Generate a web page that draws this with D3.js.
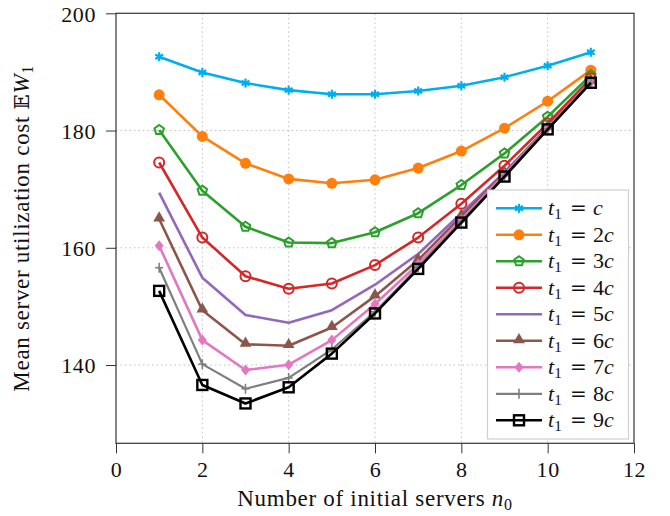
<!DOCTYPE html>
<html><head><meta charset="utf-8">
<script src="https://cdn.jsdelivr.net/npm/d3@7"></script>
<style>body{margin:0;background:#fff}svg{display:block}</style>
</head><body>
<svg id="c" width="670" height="516"></svg>
<script>
const xs = [1,2,3,4,5,6,7,8,9,10,11];
const seriesNames = ["c","2c","3c","4c","5c","6c","7c","8c","9c"];
const s1 = [192.6, 189.9, 188.1, 186.9, 186.2, 186.2, 186.75, 187.65, 189.1, 191.05, 193.35];
const s2 = [186.1, 179.0, 174.4, 171.75, 171.0, 171.6, 173.6, 176.5, 180.4, 185.0, 190.3];
const s3 = [180.1, 169.75, 163.6, 160.9, 160.8, 162.65, 165.9, 170.7, 176.1, 182.35, 189.45];
const s4 = [174.55, 161.75, 155.15, 153.0, 153.9, 157.05, 161.75, 167.5, 174.0, 181.2, 188.9];
const s5 = [169.4, 154.9, 148.55, 147.2, 149.35, 153.7, 158.95, 165.9, 172.9, 180.6, 188.4];
const s6 = [164.9, 149.35, 143.55, 143.3, 146.4, 151.75, 157.9, 165.4, 172.7, 180.5, 188.3];
const s7 = [160.35, 144.25, 139.15, 140.05, 144.25, 150.4, 157.2, 164.8, 172.5, 180.4, 188.25];
const s8 = [156.6, 140.15, 135.95, 137.8, 142.65, 149.1, 156.7, 164.5, 172.3, 180.3, 188.2];
const s9 = [152.65, 136.6, 133.45, 136.2, 141.95, 148.8, 156.4, 164.3, 172.15, 180.2, 188.15];
const xTicks = [0,2,4,6,8,10,12];
const yTicks = [140,160,180,200];

const allSeries = [s1,s2,s3,s4,s5,s6,s7,s8,s9];
const colors = ["#00AEEF","#FF7F0E","#2CA02C","#D62728","#9467BD","#8C564B","#E377C2","#7F7F7F","#000000"];
const markers = ["star","circleFill","pentagon","circleOpen","none","triangle","diamond","plus","square"];

const svg = d3.select("#c");
const L=116, R=634, T=13.3, B=443.3;
const x = d3.scaleLinear().domain([0,12]).range([L,R]);
const y = d3.scaleLinear().domain([126.65,200]).range([B,T]);
const FONT = "'Liberation Serif','Times New Roman',serif";

// grid
const grid = svg.append("g").attr("stroke","#b0b0b0").attr("stroke-width",0.8).attr("stroke-dasharray","1.5,3");
xTicks.filter(t=>t>0&&t<12).forEach(t=>grid.append("line").attr("x1",x(t)).attr("x2",x(t)).attr("y1",T).attr("y2",B));
yTicks.filter(t=>t<200).forEach(t=>grid.append("line").attr("x1",L).attr("x2",R).attr("y1",y(t)).attr("y2",y(t)));

// axes
const xAxis = d3.axisBottom(x).tickValues(xTicks).tickSize(10).tickFormat(d3.format("d"));
const yAxis = d3.axisLeft(y).tickValues(yTicks).tickSize(10).tickFormat(d3.format("d"));
const gx = svg.append("g").attr("transform",`translate(0,${B})`).call(xAxis);
const gy = svg.append("g").attr("transform",`translate(${L},0)`).call(yAxis);
[gx,gy].forEach(g=>{
  g.select(".domain").remove();
  g.selectAll("line").attr("stroke","#333").attr("stroke-width",1);
  g.selectAll("text").attr("font-family",FONT).attr("font-size",22).attr("fill","#111").attr("letter-spacing",0.6);
});
gx.selectAll("text").attr("dy",0).attr("y",34);
gy.selectAll("text").attr("x",-20).attr("dy","0.35em");

// frame
svg.append("rect").attr("x",L).attr("y",T).attr("width",R-L).attr("height",B-T)
  .attr("fill","none").attr("stroke","#333").attr("stroke-width",1.2);

// marker drawing
function drawMarker(g, type, cx, cy, color){
  const m = g.append("g").attr("transform",`translate(${cx},${cy})`);
  if(type==="star"){
    for(let k=0;k<3;k++){
      const a = Math.PI/2 + k*Math.PI/3;
      m.append("line").attr("x1",4.5*Math.cos(a)).attr("y1",4.5*Math.sin(a))
       .attr("x2",-4.5*Math.cos(a)).attr("y2",-4.5*Math.sin(a))
       .attr("stroke",color).attr("stroke-width",2.2);
    }
  } else if(type==="circleFill"){
    m.append("circle").attr("r",5.5).attr("fill",color);
  } else if(type==="circleOpen"){
    m.append("circle").attr("r",5).attr("fill","none").attr("stroke",color).attr("stroke-width",2);
  } else if(type==="pentagon"){
    const pts = d3.range(5).map(k=>{const a=-Math.PI/2+k*2*Math.PI/5;return [5*Math.cos(a),5*Math.sin(a)];});
    m.append("polygon").attr("points",pts.map(p=>p.join(",")).join(" ")).attr("fill","none").attr("stroke",color).attr("stroke-width",2);
  } else if(type==="triangle"){
    m.append("path").attr("d",d3.symbol(d3.symbolTriangle,60)()).attr("fill",color).attr("transform","translate(0,-1)");
  } else if(type==="diamond"){
    m.append("path").attr("d","M0,-5.5L4.5,0L0,5.5L-4.5,0Z").attr("fill",color);
  } else if(type==="plus"){
    m.append("line").attr("x1",0).attr("x2",0).attr("y1",-5).attr("y2",5).attr("stroke",color).attr("stroke-width",1.6);
    m.append("line").attr("x1",-4).attr("x2",4).attr("y1",0).attr("y2",0).attr("stroke",color).attr("stroke-width",1.6);
  } else if(type==="square"){
    m.append("rect").attr("x",-5).attr("y",-5).attr("width",10).attr("height",10).attr("fill","none").attr("stroke",color).attr("stroke-width",2.4);
  }
}

const line = d3.line().x((d,i)=>x(xs[i])).y(d=>y(d));
const plot = svg.append("g");
allSeries.forEach((s,j)=>{
  const g = plot.append("g");
  g.append("path").attr("d",line(s)).attr("fill","none").attr("stroke",colors[j])
    .attr("stroke-width", j===7?2.2:2.6).attr("stroke-linejoin","round");
  s.forEach((v,i)=>drawMarker(g, markers[j], x(xs[i]), y(v), colors[j]));
});

// legend
const lg = svg.append("g");
lg.append("rect").attr("x",487.5).attr("y",190).attr("width",141).attr("height",249)
  .attr("fill","#fff").attr("stroke","#cfcfcf").attr("stroke-width",1.2);
seriesNames.forEach((nm,j)=>{
  const cy = 208.3 + j*26.5;
  lg.append("line").attr("x1",496).attr("x2",542).attr("y1",cy).attr("y2",cy)
    .attr("stroke",colors[j]).attr("stroke-width", j===7?2.2:2.6);
  drawMarker(lg, markers[j], 519, cy, colors[j]);
  const base = cy + 7;
  const t1 = lg.append("text").attr("x",548).attr("y",base).attr("font-family",FONT).attr("font-size",22).attr("fill","#111");
  t1.append("tspan").attr("font-style","italic").text("t");
  t1.append("tspan").attr("font-size",15).attr("dy",4).text("1");
  lg.append("text").attr("x",570).attr("y",base).attr("font-family","'DejaVu Serif',serif").attr("font-size",20).attr("fill","#111").text("=");
  const parts = nm.match(/^(\d*)(c)$/);
  const t3 = lg.append("text").attr("x",593).attr("y",base).attr("font-family",FONT).attr("font-size",22).attr("fill","#111");
  if(parts[1]) t3.append("tspan").text(parts[1]);
  t3.append("tspan").attr("font-style","italic").text("c");
});

// axis labels
const xl = svg.append("text").attr("x",(L+R)/2).attr("y",506).attr("text-anchor","middle")
  .attr("font-family",FONT).attr("font-size",23).attr("letter-spacing",0.7).attr("fill","#111");
xl.append("tspan").text("Number of initial servers ");
xl.append("tspan").attr("font-style","italic").text("n");
xl.append("tspan").attr("font-size",16).attr("dy",4).text("0");

const yl = svg.append("text").attr("transform",`translate(29,${(T+B)/2}) rotate(-90)`).attr("text-anchor","middle")
  .attr("font-family",FONT).attr("font-size",23).attr("letter-spacing",0.7).attr("fill","#111");
yl.append("tspan").text("Mean server utilization cost ");
yl.append("tspan").attr("font-family","'DejaVu Serif','DejaVu Sans',serif").attr("font-size",20).text("\u{1D53C}");
yl.append("tspan").attr("font-style","italic").text("W");
yl.append("tspan").attr("font-size",16).attr("dy",4).text("1");
</script>
</body></html>
